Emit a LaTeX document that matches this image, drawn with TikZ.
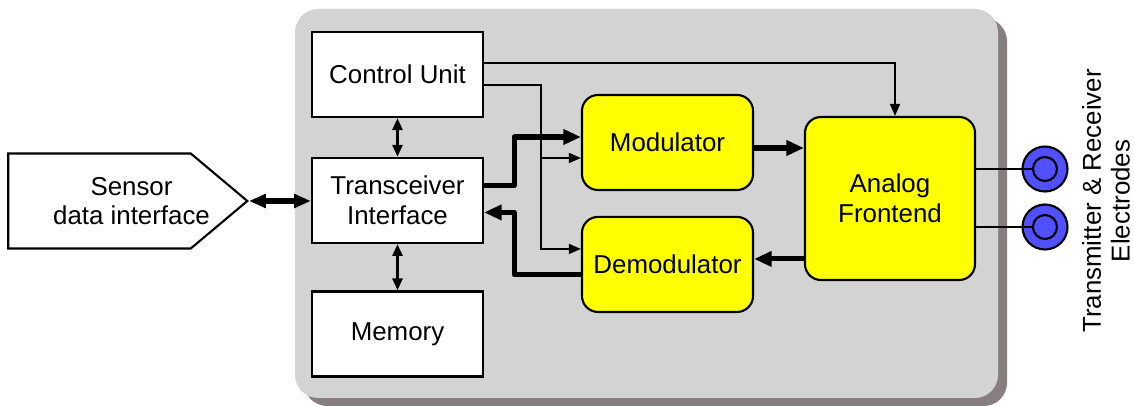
\documentclass[tikz,border=0pt]{standalone}
\usepackage{fontspec}
\setsansfont{Liberation Sans}
\usepackage{tikz}
\usetikzlibrary{arrows.meta,positioning,calc,shapes.symbols}
\definecolor{panelgray}{HTML}{D3D3D3}
\definecolor{panelshadow}{HTML}{877F7F}
\definecolor{blockyellow}{HTML}{FFFF00}
\definecolor{electrodeblue}{HTML}{5050FF}

\begin{document}
\begin{tikzpicture}[x=0.025cm, y=-0.025cm,
  block/.style={draw, line width=1.5pt, fill=white, minimum width=4.275cm, minimum height=2.125cm, align=center, font=\sffamily\fontsize{18.4}{21}\selectfont, inner sep=0pt},
  yblock/.style={block, fill=blockyellow, rounded corners=0.4cm, minimum height=2.375cm},
  iface/.style={block, signal, signal to=east, signal pointer angle=80, minimum width=5.975cm, minimum height=2.375cm},
  electrode/.style={circle, draw, line width=1.5pt, fill=electrodeblue, inner sep=0pt},
  arr/.style={-{Triangle[length=8.5pt, width=7pt]}, line width=1.4pt},
  arrthick/.style={-{Triangle[length=12.5pt, width=10.5pt]}, line width=3.6pt, line join=round},
  dbl/.style={{Triangle[length=8.5pt, width=7pt]}-{Triangle[length=8.5pt, width=7pt]}, line width=2pt},
  dblthick/.style={{Triangle[length=12pt, width=9.5pt]}-{Triangle[length=12pt, width=9.5pt]}, line width=3.6pt},
  wire/.style={line width=1.4pt}
]
  \useasboundingbox (0,0) rectangle (1134,406);
  \fill[panelshadow, rounded corners=0.58cm] (304,18) rectangle (1007,406);
  \fill[panelgray, rounded corners=0.58cm] (295,9) rectangle (998,398);

  \node[block] (ctrl) at (397.5,74.5) {Control Unit};
  \node[block, below=0.97cm of ctrl] (trx) {Transceiver\\Interface};
  \node[block, below=1.16cm of trx] (mem) {Memory};
  \node[yblock] (mod) at (667.5,142.5) {Modulator};
  \node[yblock, below=0.62cm of mod] (demod) {Demodulator};
  \node[yblock, minimum width=4.25cm, minimum height=4.075cm] (afe) at (890,198.5) {Analog\\Frontend};
  \node[iface, anchor=east, label={[align=center, font=\sffamily\fontsize{18.4}{21}\selectfont, xshift=0.8cm]center:{Sensor\\data interface}}] (sensor) at (249,201) {};
  \node[electrode, minimum size=1.125cm] (e1) at (1045,169) {};
  \node[electrode, minimum size=1.125cm] (e2) at (1045,227) {};
  \node[electrode, minimum size=0.6cm] (e1i) at (e1) {};
  \node[electrode, minimum size=0.6cm] (e2i) at (e2) {};
  \node[rotate=90, align=center, font=\sffamily\fontsize{18.4}{20.5}\selectfont] (elabel) at (1106,201) {Transmitter \& Receiver\\Electrodes};

  \coordinate (cu1) at ($(ctrl.east)+(0,-11.5)$);
  \coordinate (cu2) at ($(ctrl.east)+(0,10.5)$);
  \coordinate (modin) at ($(mod.west)+(0,15.5)$);
  \coordinate (demodin) at ($(demod.west)+(0,-15.5)$);
  \coordinate (tap) at ($(cu2)+(57,0)$);
  \coordinate (m2a) at ($(mod.east)+(0,5.5)$);
  \coordinate (a2d) at ($(demod.east)+(0,-5.5)$);

  \draw[dblthick] (sensor.east) -- (sensor.east -| trx.west);
  \draw[dbl] (ctrl) -- (trx);
  \draw[dbl] (trx) -- (mem);
  \draw[arr] (cu1) -| ($(afe.north)+(5,0)$);
  \draw[arr] (cu2) -- (tap) |- (demodin);
  \draw[arr] (modin -| tap) -- (modin);
  \draw[arrthick] ($(trx.east)+(0,-15)$) -- ++(30,0) |- ($(mod.west)+(0,-5.5)$);
  \draw[arrthick] ($(demod.west)+(0,10.5)$) -| ($(trx.east)+(30,12)$) -- ($(trx.east)+(0,12)$);
  \draw[arrthick] (m2a) -- (m2a -| afe.west);
  \draw[arrthick] (a2d -| afe.west) -- (a2d);
  \draw[wire] (e1 -| afe.east) -- (e1i);
  \draw[wire] (e2 -| afe.east) -- (e2i);
\end{tikzpicture}
\end{document}
